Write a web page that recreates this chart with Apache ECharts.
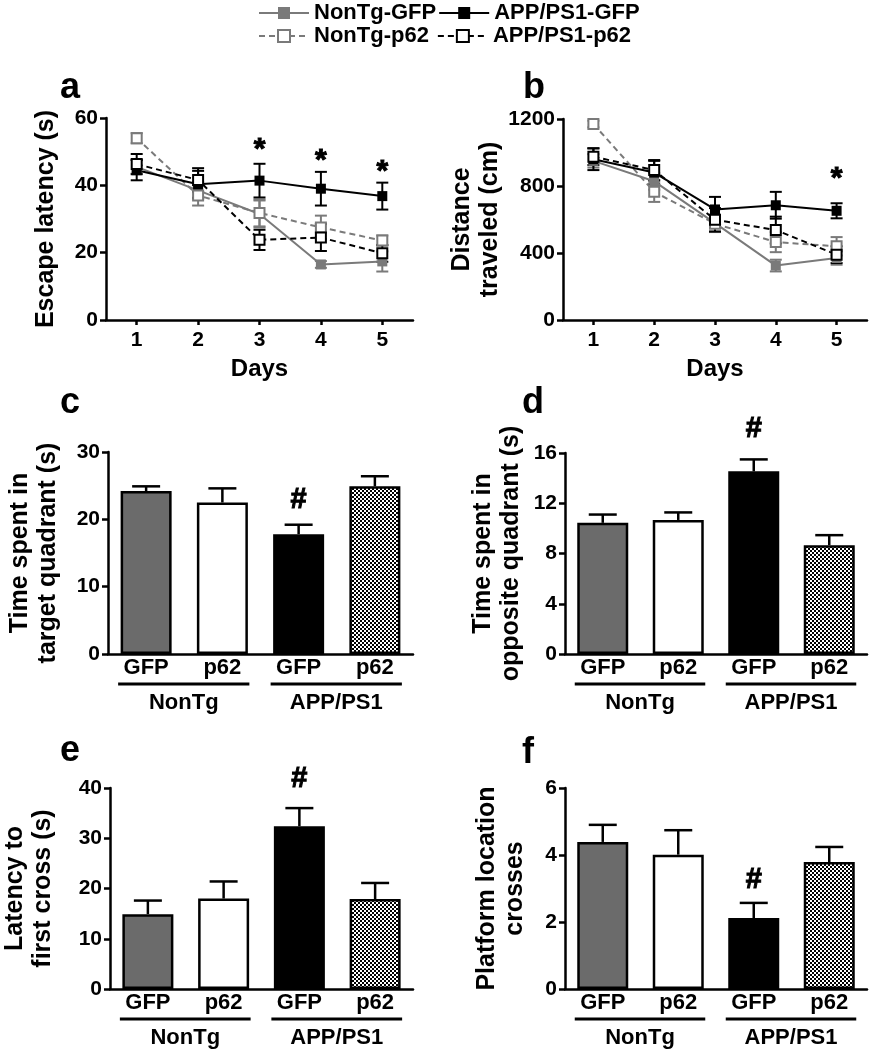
<!DOCTYPE html>
<html><head><meta charset="utf-8">
<script src="https://cdn.jsdelivr.net/npm/echarts@6/dist/echarts.min.js"></script>
<style>html,body{margin:0;padding:0;background:#fff}#chart{width:869px;height:1050px}</style>
</head><body><div id="chart"></div>
<script>
// ---------- data ----------
const days = ['1', '2', '3', '4', '5'];
const seriesNames = ['NonTg-GFP', 'NonTg-p62', 'APP/PS1-GFP', 'APP/PS1-p62'];

// Panel a: escape latency (s)
const escNonTgGFP = [45.5, 38.5, 31.5, 16.5, 17.4];
const escNonTgGFPErr = [2, 2.5, 4, 1, 3];
const escNonTgP62 = [54, 37, 31.8, 27.5, 23.6];
const escNonTgP62Err = [1.5, 3, 4, 3.5, 1.5];
const escAppGFP = [44.5, 40.3, 41.4, 39, 36.8];
const escAppGFPErr = [3, 4, 5, 5, 4];
const escAppP62 = [46.3, 41.6, 23.8, 24.5, 19.8];
const escAppP62Err = [3, 3.5, 3, 4, 2.5];
const escStarY = [null, null, 50.5, 47.3, 44];

// Panel b: distance traveled (cm)
const distNonTgGFP = [950, 828, 578, 325, 370];
const distNonTgGFPErr = [40, 50, 50, 35, 40];
const distNonTgP62 = [1170, 765, 575, 465, 440];
const distNonTgP62Err = [20, 60, 50, 60, 55];
const distAppGFP = [960, 880, 660, 685, 652];
const distAppGFPErr = [65, 70, 75, 80, 45];
const distAppP62 = [975, 895, 598, 537, 390];
const distAppP62Err = [50, 60, 70, 80, 50];
const distStarY = [null, null, null, null, 845];

// Bar panels
const barCats = ['GFP', 'p62', 'GFP', 'p62'];
const groupLabels = ['NonTg', 'APP/PS1'];
const groupRanges = [[0, 1], [2, 3]];

const targetQuad = [24.2, 22.5, 17.8, 24.9];
const targetQuadErr = [0.7, 2.1, 1.4, 1.5];
const targetQuadMarkY = [null, null, 22.8, null];

const oppositeQuad = [10.44, 10.67, 14.54, 8.66];
const oppositeQuadErr = [0.66, 0.6, 0.95, 0.8];
const oppositeQuadMarkY = [null, null, 17.9, null];

const latencyCross = [14.9, 18.0, 32.4, 17.9];
const latencyCrossErr = [2.7, 3.4, 3.6, 3.2];
const latencyCrossMarkY = [null, null, 41.8, null];

const platformCross = [4.39, 4.01, 2.12, 3.79];
const platformCrossErr = [0.51, 0.73, 0.45, 0.45];
const platformCrossMarkY = [null, null, 3.24, null];

// ---------- styling ----------
const FONT = "'Liberation Sans', Arial, Helvetica, sans-serif";
const GRAY = '#7a7a7a';
const BARGRAY = '#6b6b6b';
const BLACK = '#000';

// checker pattern
const pat = document.createElement('canvas');
pat.width = 4; pat.height = 4;
(function(){ const c = pat.getContext('2d'); c.fillStyle = '#fff'; c.fillRect(0,0,4,4);
  c.fillStyle = '#000'; c.fillRect(0,0,2,2); c.fillRect(2,2,2,2); })();
const barFills = [BARGRAY, '#ffffff', '#000000', {image: pat, repeat: 'repeat'}];

const grids = [
  {left: 106, top: 118, width: 307, height: 202},
  {left: 563, top: 119, width: 304, height: 201},
  {left: 108, top: 452, width: 305, height: 202},
  {left: 565, top: 453, width: 302, height: 201},
  {left: 108, top: 788, width: 305, height: 201},
  {left: 565, top: 788, width: 302, height: 201}
];

const axisLine = {show: true, lineStyle: {color: BLACK, width: 2.5}};
const tickLbl = {color: BLACK, fontWeight: 'bold', fontSize: 21, fontFamily: FONT};
const nameStyle = {color: BLACK, fontWeight: 'bold', fontSize: 25, fontFamily: FONT, lineHeight: 28};

function xLine(i) {
  return {type: 'category', gridIndex: i, data: days, boundaryGap: true,
    axisLine, axisTick: {show: true, alignWithLabel: true, length: 5, lineStyle: {width: 2.5, color: BLACK}},
    axisLabel: Object.assign({margin: 10}, tickLbl), splitLine: {show: false},
    name: 'Days', nameLocation: 'middle', nameGap: 35,
    nameTextStyle: Object.assign({}, nameStyle, {fontSize: 24})};
}
function xBar(i) {
  return {type: 'category', gridIndex: i, data: barCats, boundaryGap: true,
    axisLine, axisTick: {show: false},
    axisLabel: Object.assign({margin: 3}, tickLbl, {fontSize: 22}), splitLine: {show: false}};
}
function yAx(i, max, interval, name, gap) {
  return {type: 'value', gridIndex: i, min: 0, max, interval,
    axisLine, axisTick: {show: true, length: 6, lineStyle: {width: 2.5, color: BLACK}},
    axisLabel: Object.assign({margin: 8, formatter: v => String(v)}, tickLbl), splitLine: {show: false},
    name, nameLocation: 'middle', nameRotate: 90, nameGap: gap, nameTextStyle: nameStyle};
}

function lineSeries(name, data, k, color, filled, dashed) {
  return {type: 'line', name, xAxisIndex: k, yAxisIndex: k, data,
    symbol: filled ? 'rect' : 'emptyRect', symbolSize: 10,
    lineStyle: {color, width: 2, type: dashed ? [6, 4] : 'solid'},
    itemStyle: {color, borderColor: color, borderWidth: filled ? 0 : 2},
    z: 4, animation: false};
}
function errSeries(means, errs, k, color, capW, both, lw) {
  return {type: 'custom', xAxisIndex: k, yAxisIndex: k, z: both ? 3 : 5, silent: true, animation: false,
    data: means.map((m, i) => [i, m, errs[i]]),
    encode: {x: 0, y: 1},
    renderItem(params, api) {
      const i = api.value(0), m = api.value(1), e = api.value(2);
      const top = api.coord([i, m + e]);
      const bot = api.coord([i, both ? m - e : m]);
      const x = top[0];
      const st = {stroke: color, lineWidth: lw};
      const ch = [
        {type: 'line', shape: {x1: x, y1: top[1], x2: x, y2: bot[1]}, style: st},
        {type: 'line', shape: {x1: x - capW / 2, y1: top[1], x2: x + capW / 2, y2: top[1]}, style: st}
      ];
      if (both) ch.push({type: 'line', shape: {x1: x - capW / 2, y1: bot[1], x2: x + capW / 2, y2: bot[1]}, style: st});
      return {type: 'group', children: ch};
    }};
}
function markSeries(ys, k, txt, size) {
  const data = [];
  ys.forEach((y, i) => { if (y != null) data.push([i, y]); });
  return {type: 'custom', xAxisIndex: k, yAxisIndex: k, data, clip: false, silent: true, animation: false,
    encode: {x: 0, y: 1}, z: 6,
    renderItem(params, api) {
      const p = api.coord([api.value(0), api.value(1)]);
      return {type: 'text', style: {x: p[0], y: p[1], text: txt, align: 'center', verticalAlign: 'middle',
        fill: BLACK, stroke: BLACK, lineWidth: 1, font: 'bold ' + size + 'px ' + FONT}};
    }};
}
function barSeries(vals, k) {
  return {type: 'bar', xAxisIndex: k, yAxisIndex: k, barWidth: 51, animation: false,
    data: vals.map((v, i) => ({value: v, itemStyle: {color: barFills[i]}})),
    itemStyle: {borderColor: BLACK, borderWidth: 2.5}, z: 2};
}
function groupSeries(k) {
  return {type: 'custom', xAxisIndex: k, yAxisIndex: k, silent: true, animation: false, clip: false,
    data: groupRanges.map(r => [r[0], r[1], 0]),
    encode: {x: [0, 1], y: 2},
    renderItem(params, api) {
      const a = api.coord([api.value(0), 0]);
      const b = api.coord([api.value(1), 0]);
      const y = a[1] + 30;
      const x0 = a[0] - 28, x1 = b[0] + 27;
      return {type: 'group', children: [
        {type: 'line', shape: {x1: x0, y1: y, x2: x1, y2: y}, style: {stroke: BLACK, lineWidth: 3}},
        {type: 'text', style: {x: (x0 + x1) / 2, y: a[1] + 49, text: groupLabels[params.dataIndex],
          align: 'center', verticalAlign: 'middle', fill: BLACK, font: 'bold 22px ' + FONT}}
      ]};
    }};
}

const series = [];
[[0, [escNonTgGFP, escNonTgP62, escAppGFP, escAppP62], [escNonTgGFPErr, escNonTgP62Err, escAppGFPErr, escAppP62Err]],
 [1, [distNonTgGFP, distNonTgP62, distAppGFP, distAppP62], [distNonTgGFPErr, distNonTgP62Err, distAppGFPErr, distAppP62Err]]
].forEach(([k, means, errs]) => {
  const colors = [GRAY, GRAY, BLACK, BLACK];
  const filled = [true, false, true, false];
  const dashed = [false, true, false, true];
  for (let s = 0; s < 4; s++) {
    series.push(errSeries(means[s], errs[s], k, colors[s], 12, true, 2));
    series.push(lineSeries(seriesNames[s], means[s], k, colors[s], filled[s], dashed[s]));
  }
});
series.push(markSeries(escStarY, 0, '*', 30));
series.push(markSeries(distStarY, 1, '*', 30));

[[2, targetQuad, targetQuadErr, targetQuadMarkY],
 [3, oppositeQuad, oppositeQuadErr, oppositeQuadMarkY],
 [4, latencyCross, latencyCrossErr, latencyCrossMarkY],
 [5, platformCross, platformCrossErr, platformCrossMarkY]].forEach(([k, v, e, m]) => {
  series.push(barSeries(v, k));
  series.push(errSeries(v, e, k, BLACK, 28, false, 2.5));
  series.push(markSeries(m, k, '#', 29));
  series.push(groupSeries(k));
});

const letters = [['a', 60, 88], ['b', 523, 88], ['c', 60, 403], ['d', 522, 403], ['e', 60, 751], ['f', 522, 753]];

const legText = {color: BLACK, fontWeight: 'bold', fontSize: 22, fontFamily: FONT};
const option = {
  backgroundColor: '#fff',
  animation: false,
  textStyle: {fontFamily: FONT},
  legend: [
    {data: [seriesNames[0], seriesNames[2]], left: 253, top: -3, itemWidth: 50, itemHeight: 15, itemGap: 2, textStyle: legText},
    {data: [seriesNames[1], seriesNames[3]], left: 253, top: 20, itemWidth: 50, itemHeight: 15, itemGap: 8, textStyle: legText}
  ],
  grid: grids,
  xAxis: [xLine(0), xLine(1), xBar(2), xBar(3), xBar(4), xBar(5)],
  yAxis: [
    yAx(0, 60, 20, 'Escape latency (s)', 46),
    yAx(1, 1200, 400, 'Distance\ntraveled (cm)', 58),
    yAx(2, 30, 10, 'Time spent in\ntarget quadrant (s)', 46),
    yAx(3, 16, 4, 'Time spent in\nopposite quadrant (s)', 40),
    yAx(4, 40, 10, 'Latency to\nfirst cross (s)', 53),
    yAx(5, 6, 2, 'Platform location\ncrosses', 36)
  ],
  graphic: letters.map(([t, x, y]) => ({type: 'text', x, y,
    style: {text: t, fill: BLACK, font: 'bold 36px ' + FONT, verticalAlign: 'middle', align: 'left'}})),
  series
};

const chart = echarts.init(document.getElementById('chart'), null, {renderer: 'canvas'});
chart.setOption(option);
</script></body></html>
